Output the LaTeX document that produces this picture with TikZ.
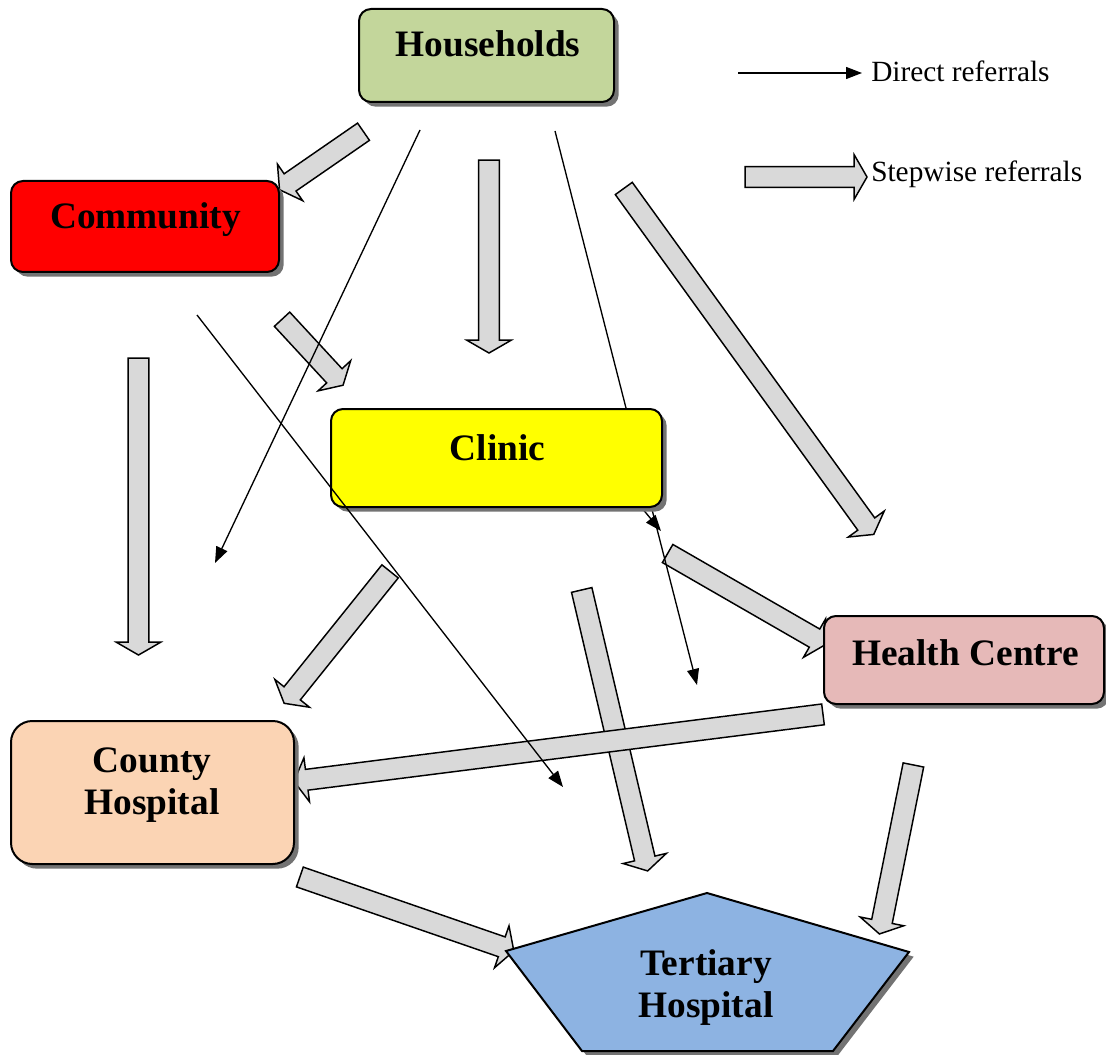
\documentclass[tikz,border=0pt]{standalone}
\usepackage{fontspec}
\setmainfont{Liberation Serif}
\usetikzlibrary{arrows.meta,shapes.arrows,shadows,calc}

\definecolor{hhgreen}{RGB}{195,214,155}
\definecolor{cliyellow}{RGB}{255,255,0}
\definecolor{hcpink}{RGB}{230,185,184}
\definecolor{ctypeach}{RGB}{251,212,180}
\definecolor{tertblue}{RGB}{141,179,226}
\definecolor{stepgray}{RGB}{217,217,217}
\definecolor{shadowgray}{RGB}{115,115,115}

\tikzset{
  levelbox/.style={draw, line width=1.5pt, rounded corners=9pt,
    drop shadow={shadow xshift=3.5pt, shadow yshift=-3.5pt, fill=shadowgray, opacity=1}},
  leveltext/.style={font=\fontsize{28}{31.5}\selectfont\bfseries, inner sep=0pt, align=center},
  legendtext/.style={font=\fontsize{22}{26}\selectfont, anchor=base west, inner sep=0pt},
  directref/.style={line width=1pt, -{Triangle[length=12pt,width=9pt]}},
  stepref/.style={single arrow, draw, line width=1.1pt, fill=stepgray, inner xsep=0pt, inner ysep=7.3pt,
    single arrow head extend=8.8pt, single arrow tip angle=120},
}

% block arrow from (#1-t) to (#1-h)
\newcommand{\stepwise}[1]{%
  \path let \p1=($(#1-h)-(#1-t)$), \n1={atan2(\y1,\x1)}, \n2={veclen(\x1,\y1)} in
    node[stepref, minimum height=\n2, rotate=-\n1] (#1) at ($(#1-t)!0.5!(#1-h)$) {};
}

\begin{document}
\begin{tikzpicture}[x=0.75pt,y=0.75pt,yscale=-1,xscale=1]
        \useasboundingbox (0,0) rectangle (1106,1055);
        % stepwise referral ends: tail -t, head -h
        \coordinate (hhcom-t) at (366,130);    \coordinate (hhcom-h) at (282,188);
        \coordinate (hhcli-t) at (489,157);    \coordinate (hhcli-h) at (489,350);
        \coordinate (hhhc-t) at (622,186);     \coordinate (hhhc-h) at (872,532);
        \coordinate (comcli-t) at (280,317);   \coordinate (comcli-h) at (341,383);
        \coordinate (comcty-t) at (138.5,355); \coordinate (comcty-h) at (138.5,652);
        \coordinate (clicty-t) at (392,569);   \coordinate (clicty-h) at (286,701);
        \coordinate (clihc-t) at (665,552);    \coordinate (clihc-h) at (823,643);
        \coordinate (clitert-t) at (581,587);  \coordinate (clitert-h) at (647,868);
        \coordinate (hctert-t) at (914,762);   \coordinate (hctert-h) at (880,931);
        \coordinate (ctytert-t) at (297,876);  \coordinate (ctytert-h) at (511,950);
        \coordinate (hccty-t) at (826,714);    \coordinate (hccty-h) at (297,781);
        \coordinate (legstep-t) at (742,177);  \coordinate (legstep-h) at (864,177);
        \foreach \s in {hhcom,hhcli,hhhc,comcli,comcty,clicty,clihc,clitert,hctert,ctytert,hccty,legstep}
            {\stepwise{\s}}
        % direct referral ends
        \coordinate (hhcty-a) at (420,130);    \coordinate (hhcty-b) at (215,563);
        \coordinate (hhhc-a) at (555,131);     \coordinate (hhhc-b) at (697,685);
        \coordinate (clihc-a) at (636,501);    \coordinate (clihc-b) at (661,531);
        \coordinate (comtert-a) at (197,315);  \coordinate (comtert-b) at (563,787);
        \coordinate (legdir-a) at (738,73);    \coordinate (legdir-b) at (862,73);
        % lines running behind the clinic
        \draw [directref] (hhhc-a) -- (hhhc-b);
        \draw [directref] (clihc-a) -- (clihc-b);
        %Shape: Clinic
        \node [levelbox, fill=cliyellow, minimum width=248.25pt, minimum height=73.5pt] (cli) at (496.5,458) {};
        \node [leveltext, anchor=base] (clitext) at (497.5,460) {Clinic};
        %Shape: Households
        \node [levelbox, fill=hhgreen, minimum width=191.25pt, minimum height=69.75pt] (hh) at (486.5,55.5) {};
        \node [leveltext, anchor=base] (hhtext) at (488,57) {Households};
        %Shape: Community
        \node [levelbox, fill=red, minimum width=201pt, minimum height=68.25pt] (com) at (145,226.5) {};
        \node [leveltext, anchor=base] (comtext) at (145.5,229) {Community};
        %Shape: Health Centre
        \node [levelbox, fill=hcpink, minimum width=210pt, minimum height=66pt] (hc) at (964,660) {};
        \node [leveltext, anchor=base] (hctext) at (965.5,665) {Health Centre};
        %Shape: County Hospital
        \node [levelbox, fill=ctypeach, rounded corners=16pt, minimum width=212.25pt, minimum height=107.25pt] (cty) at (152.5,792.5) {};
        \node [leveltext] (ctytext) at (152,785) {County\\Hospital};
        %Shape: Tertiary Hospital
        \coordinate (tert1) at (707,893);
        \coordinate (tert2) at (909,952);
        \coordinate (tert3) at (833,1051);
        \coordinate (tert4) at (582,1051);
        \coordinate (tert5) at (506,951);
        \draw [line width=1.5pt, fill=tertblue, line join=miter,
            drop shadow={shadow xshift=3.5pt, shadow yshift=-3.5pt, fill=shadowgray, opacity=1}]
            (tert1) -- (tert2) -- (tert3) -- (tert4) -- (tert5) -- cycle;
        \node [leveltext] (terttext) at (706,988) {Tertiary\\Hospital};
        % direct referrals on top
        \draw [directref] (hhcty-a) -- (hhcty-b);
        \draw [directref] (comtert-a) -- (comtert-b);
        % Legend
        \draw [directref] (legdir-a) -- (legdir-b);
        \node [legendtext] (dirlabel) at (871,82) {Direct referrals};
        \node [legendtext] (steplabel) at (871,182) {Stepwise referrals};
\end{tikzpicture}
\end{document}
